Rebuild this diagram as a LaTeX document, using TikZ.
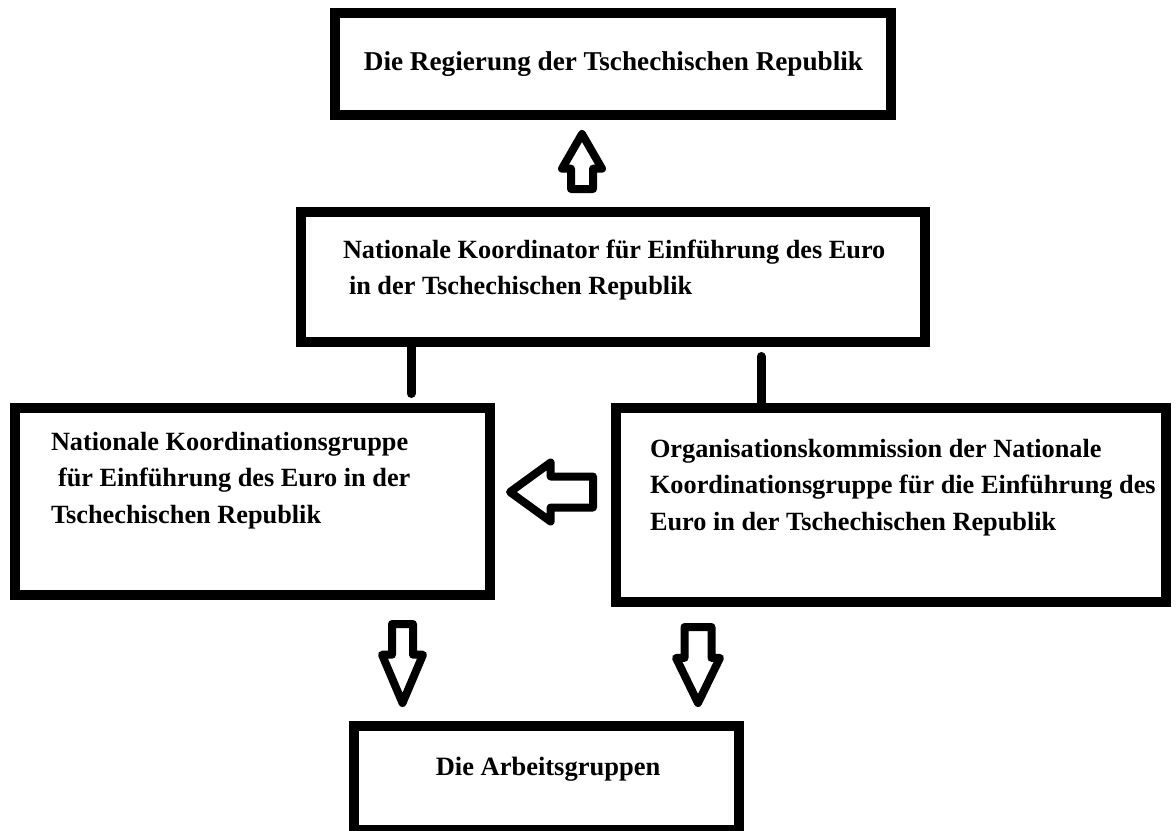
\documentclass[tikz,border=0pt]{standalone}
\usepackage{fontspec}
\setmainfont{Liberation Serif}
\usetikzlibrary{shapes.arrows}

\begin{document}
\begin{tikzpicture}[y=0.5pt,x=0.5pt,yscale=-1, inner sep=0pt, outer sep=0pt,
  frame/.style={draw=black,line width=5pt},
  boxfont/.style={font=\bfseries\fontsize{#1}{18.25pt}\selectfont},
  boxfont/.default=13.15pt,
  boxpar/.style={align=flush left,text width=300pt},
  link/.style={draw=black,line width=4.5pt,line cap=round},
  hollow/.style={single arrow,draw=black,fill=white,line width=4pt,line join=round,inner xsep=0pt}]
  \useasboundingbox (0,0) rectangle (1176,830);
  \node[frame,minimum width=278pt,minimum height=51pt] (govBox) at (613,64) {};
  \node[frame,minimum width=312pt,minimum height=65pt] (coordBox) at (613,277) {};
  \node[frame,minimum width=237.5pt,minimum height=93.5pt] (groupBox) at (252.5,501.5) {};
  \node[frame,minimum width=275pt,minimum height=97pt] (commBox) at (891,505) {};
  \node[frame,minimum width=192.5pt,minimum height=52pt] (workBox) at (546.5,778) {};
  \node[boxfont=13.6pt,anchor=base] (govText) at ([shift={(0.5,6)}]govBox.center)
    {Die Regierung der Tschechischen Republik};
  \node[boxfont,boxpar,anchor=base west] (coordText) at ([shift={(42,46)}]coordBox.north west)
    {Nationale Koordinator für Einführung des Euro\\\hspace*{3pt}in der Tschechischen Republik};
  \node[boxfont,boxpar,anchor=base west] (groupText) at ([shift={(36,42)}]groupBox.north west)
    {Nationale Koordinationsgruppe\\\hspace*{3.5pt}für Einführung des Euro in der\\Tschechischen Republik};
  \node[boxfont,boxpar,anchor=base west] (commText) at ([shift={(34,49)}]commBox.north west)
    {Organisationskommission der Nationale\\Koordinationsgruppe für die Einführung des\\Euro in der Tschechischen Republik};
  \node[boxfont=13.25pt,anchor=base] (workText) at ([shift={(1.5,-3)}]workBox.center)
    {Die Arbeitsgruppen};
  \coordinate (linkL) at ([xshift=55pt]coordBox.south west);
  \coordinate (linkR) at ([xshift=72.5pt]commBox.north west);
  \draw[link,shorten >=7.25pt] (linkL) -- (linkL |- groupBox.north);
  \draw[link,shorten >=7.25pt] (linkR) -- (linkR |- coordBox.south);
  \node[hollow,rotate=90,minimum height=27.5pt,inner ysep=3.5pt,
    single arrow head extend=4.5pt,single arrow tip angle=60,anchor=tail] (upArrow) at (582,189) {};
  \node[hollow,rotate=180,minimum height=41.5pt,inner ysep=5.75pt,
    single arrow head extend=7pt,single arrow tip angle=72,anchor=tail] (leftArrow) at (593,492) {};
  \node[hollow,rotate=-90,minimum height=39.5pt,inner ysep=3.25pt,
    single arrow head extend=5pt,single arrow tip angle=46,anchor=tail] (downArrowL) at (402.5,624) {};
  \node[hollow,rotate=-90,minimum height=38pt,inner ysep=4.75pt,
    single arrow head extend=4.25pt,single arrow tip angle=52,anchor=tail] (downArrowR) at (698,627) {};
\end{tikzpicture}
\end{document}
